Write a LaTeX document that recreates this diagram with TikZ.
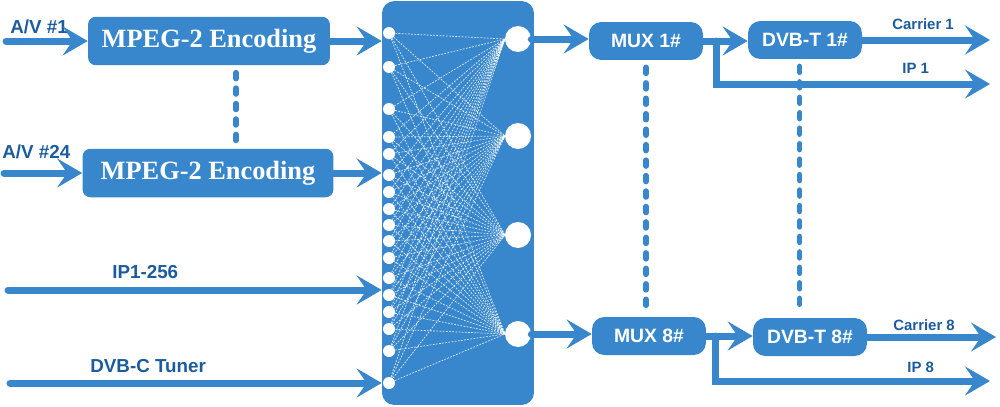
\documentclass[tikz,border=0pt]{standalone}
\usepackage{fontspec}
\setmainfont{Liberation Serif}
\setsansfont{Liberation Sans}
\usetikzlibrary{arrows.meta}
\definecolor{boxblue}{RGB}{56,135,205}
\definecolor{labelblue}{RGB}{28,92,158}
\tikzset{
  encbox/.style={fill=boxblue,rounded corners=4.5pt,inner sep=0pt,minimum height=0.97cm,
    text=white,font=\bfseries\fontsize{15}{18}\selectfont},
  muxbox/.style={fill=boxblue,rounded corners=7pt,inner sep=0pt,minimum width=2.28cm,minimum height=0.76cm,
    text=white,font=\sffamily\bfseries\fontsize{11}{13}\selectfont},
  smallport/.style={circle,fill=white,inner sep=0pt,minimum size=0.24cm},
  bigport/.style={circle,fill=white,inner sep=0pt,minimum size=0.52cm},
  flow/.style={draw=boxblue,line width=0.14cm,line cap=round,
    -{Stealth[length=0.5cm,width=0.58cm,inset=0.2cm]}},
  dots/.style={draw=boxblue,line width=0.11cm,line cap=round,dash pattern=on 3.4pt off 5.4pt},
  mesh/.style={draw=white,line width=0.4pt,dash pattern=on 1pt off 0.8pt,opacity=0.85},
  label/.style={text=labelblue,inner sep=0pt,font=\sffamily\bfseries\fontsize{10.7}{12}\selectfont},
  smalllabel/.style={text=labelblue,inner sep=0pt,font=\sffamily\bfseries\fontsize{8.5}{10}\selectfont}
}
\begin{document}
\begin{tikzpicture}[x=0.02cm,y=-0.02cm]
  \useasboundingbox (0,0) rectangle (1000,406);
  %% encoders
  \node[encbox,minimum width=4.84cm] (enc1) at (209,41) {MPEG-2 Encoding};
  \node[encbox,minimum width=5.02cm] (enc2) at (208,173) {MPEG-2 Encoding};
  \draw[dots,shorten <=4pt,shorten >=4pt] ([xshift=15.3pt]enc1.south) -- ([xshift=15.3pt]enc1.south |- enc2.north);
  \node[label,anchor=base west] at (10,33) {A/V \#1};
  \node[label,anchor=base west] at (2,158) {A/V \#24};
  \node[label,anchor=base west] at (112,278) {IP1-256};
  \node[label,anchor=base west] at (90,372) {DVB-C Tuner};
  \coordinate (av1) at (6,41);
  \coordinate (av24) at (4,173);
  \coordinate (iplist) at (8,290);
  \coordinate (tuner) at (10,383);
  %% cross point switch
  \node[fill=boxblue,rounded corners=7pt,minimum width=3.04cm,minimum height=8.08cm] (xbar) at (458,203) {};
  \foreach \y [count=\i] in {33,67,109,137,154,175,192,209,225,241,258,278,295,312,329,351,383}
    \coordinate (c\i) at (389,\y);
  \foreach \y [count=\j] in {39,136,235,334}
    \coordinate (d\j) at (518,\y);
  \foreach \i in {1,...,17}
    \foreach \j in {1,...,4}
      \draw[mesh] (c\i) -- ([xshift=-7.4pt]d\j);
  \foreach \i in {1,...,17}
    \node[smallport] (in\i) at (c\i) {};
  \foreach \j in {1,...,4}
    \node[bigport] (out\j) at (d\j) {};
  %% inputs
  \draw[flow] (av1) -- (enc1.west);
  \draw[flow] (av24) -- (enc2.west);
  \draw[flow] (enc1.east) -- (enc1.east -| xbar.west);
  \draw[flow] (enc2.east) -- (enc2.east -| xbar.west);
  \draw[flow] (iplist) -- (iplist -| xbar.west);
  \draw[flow] (tuner) -- (tuner -| xbar.west);
  %% mux and modulators
  \node[muxbox] (mux1) at (646,41) {MUX 1\#};
  \node[muxbox] (mux8) at (649,336) {MUX 8\#};
  \node[muxbox] (dvb1) at (805,40) {DVB-T 1\#};
  \node[muxbox] (dvb8) at (810,337) {DVB-T 8\#};
  \draw[dots,shorten <=4pt,shorten >=2pt] (mux1.south) -- (mux1.south |- mux8.north);
  \draw[dots,shorten <=4pt,shorten >=6pt] ([xshift=-3pt]dvb1.south) -- ([xshift=-3pt]dvb1.south |- dvb8.north);
  \draw[flow] (out1.east) -- (out1.east -| mux1.west);
  \draw[flow] (out4.east) -- (out4.east -| mux8.west);
  \draw[flow] (mux1.east) -- (mux1.east -| dvb1.west);
  \draw[flow] (mux8.east) -- (mux8.east -| dvb8.west);
  \coordinate (br1) at ([xshift=7.4pt]mux1.east);
  \coordinate (br8) at ([xshift=5.1pt]mux8.east);
  \coordinate (car1) at (990,40);
  \coordinate (ip1) at (990,84);
  \coordinate (car8) at (996,337);
  \coordinate (ip8) at (990,381);
  \draw[flow] (dvb1.east) -- (car1);
  \draw[flow] (dvb8.east) -- (car8);
  \draw[flow] (br1) |- (ip1);
  \draw[flow] (br8) |- (ip8);
  \node[smalllabel,anchor=base west] at (892,29) {Carrier 1};
  \node[smalllabel,anchor=base west] at (902,73) {IP 1};
  \node[smalllabel,anchor=base west] at (893,330) {Carrier 8};
  \node[smalllabel,anchor=base west] at (907,372) {IP 8};
\end{tikzpicture}
\end{document}
